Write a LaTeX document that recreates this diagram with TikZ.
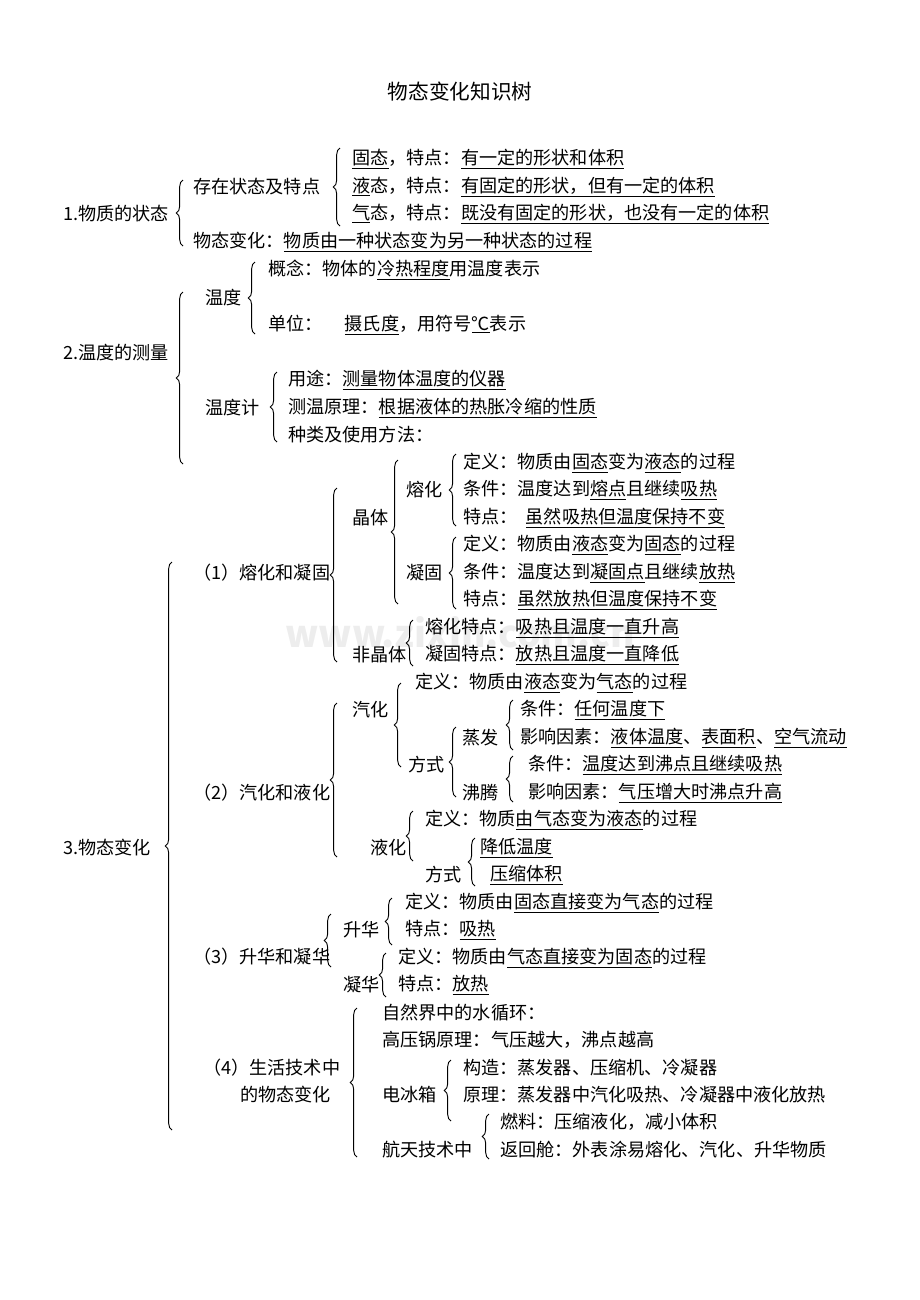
\documentclass[tikz,border=0pt]{standalone}
\usepackage{fontspec}
\setmainfont{Noto Sans CJK SC}
\usetikzlibrary{decorations.pathreplacing}

\begin{document}
\begin{tikzpicture}[x=0.75pt,y=-0.75pt,
  txt/.style={anchor=west,inner sep=0pt,font=\fontsize{13.6}{15}\selectfont},
  brc/.style={decorate,decoration={brace,amplitude=5pt},line width=0.7pt}]

\useasboundingbox (0,0) rectangle (920,1300);
\newcommand{\brc}[3]{\draw[brc] (#1,#3) -- (#1,#2);} % x, top, bottom
\newcommand{\ul}[1]{\underline{#1}}

\node[font=\fontsize{28}{30}\selectfont\bfseries,text=black!7] (mark) at (460,632) {www.zixin.com.cn};
\node[inner sep=0pt,font=\fontsize{15.5}{18}\selectfont] (title) at (460,92) {物态变化知识树};

% 1
\node[txt] (s1) at (63,214) {1.物质的状态};
\brc{183}{180}{246}
\node[txt] (exist) at (193,187) {存在状态及特点};
\brc{340}{148}{226}
\node[txt] (gu) at (352,159) {\ul{固态}，特点：\ul{有一定的形状和体积}};
\node[txt] (ye) at (352,187) {\ul{液}态，特点：\ul{有固定的形状，但有一定的体积}};
\node[txt] (qi) at (352,214) {\ul{气}态，特点：\ul{既没有固定的形状，也没有一定的体积}};
\node[txt] (bh) at (193,242) {物态变化：\ul{物质由一种状态变为另一种状态的过程}};

% 2
\node[txt] (s2) at (63,353) {2.温度的测量};
\brc{183}{292}{464}
\node[txt] (wd) at (205,298) {温度};
\brc{255}{262}{334}
\node[txt] (gn) at (268,270) {概念：物体的\ul{冷热程度}用温度表示};
\node[txt] (dw) at (268,325) {单位：\quad\ \ul{摄氏度}，用符号\ul{℃}表示};
\node[txt] (wdj) at (205,408) {温度计};
\brc{277}{372}{442}
\node[txt] (yt) at (288,380) {用途：\ul{测量物体温度的仪器}};
\node[txt] (yl) at (288,408) {测温原理：\ul{根据液体的热胀冷缩的性质}};
\node[txt] (zl) at (288,435) {种类及使用方法：};

% 3
\node[txt] (s3) at (63,848) {3.物态变化};
\brc{172}{562}{1130}
\node[txt] (rh) at (193,573) {（1）熔化和凝固};
\brc{337}{488}{662}
\node[txt] (jt) at (352,518) {晶体};
\brc{398}{460}{604}
\node[txt] (rh1) at (406,490) {熔化};
\brc{456}{454}{526}
\node[txt] (a1) at (463,463) {定义：物质由\ul{固态}变为\ul{液态}的过程};
\node[txt] (a2) at (463,490) {条件：温度达到\ul{熔点}且继续\ul{吸热}};
\node[txt] (a3) at (463,518) {特点：\ \ \ul{虽然吸热但温度保持不变}};
\node[txt] (ng1) at (406,573) {凝固};
\brc{456}{537}{609}
\node[txt] (b1) at (463,545) {定义：物质由\ul{液态}变为\ul{固态}的过程};
\node[txt] (b2) at (463,573) {条件：温度达到\ul{凝固点}且继续\ul{放热}};
\node[txt] (b3) at (463,600) {特点：\ul{虽然放热但温度保持不变}};
\node[txt] (fjt) at (352,655) {非晶体};
\brc{413}{620}{666}
\node[txt] (c1) at (425,628) {熔化特点：\ul{吸热且温度一直升高}};
\node[txt] (c2) at (425,655) {凝固特点：\ul{放热且温度一直降低}};

\node[txt] (qh) at (193,793) {（2）汽化和液化};
\brc{337}{703}{857}
\node[txt] (qh1) at (352,710) {汽化};
\brc{401}{683}{767}
\node[txt] (d1) at (415,683) {定义：物质由\ul{液态}变为\ul{气态}的过程};
\node[txt] (fs1) at (408,765) {方式};
\brc{456}{727}{797}
\node[txt] (zf) at (462,738) {蒸发};
\brc{513}{700}{750}
\node[txt] (e1) at (520,710) {条件：\ul{任何温度下}};
\node[txt] (e2) at (520,738) {影响因素：\ul{液体温度}、\ul{表面积}、\ul{空气流动}};
\node[txt] (ft) at (462,793) {沸腾};
\brc{513}{756}{802}
\node[txt] (f1) at (528,765) {条件：\ul{温度达到沸点且继续吸热}};
\node[txt] (f2) at (528,793) {影响因素：\ul{气压增大时沸点升高}};
\node[txt] (yh) at (370,848) {液化};
\brc{413}{811}{861}
\node[txt] (g1) at (425,820) {定义：物质\ul{由气态变为液态}的过程};
\node[txt] (fs2) at (425,875) {方式};
\brc{475}{838}{886}
\node[txt] (g2) at (480,848) {\ul{降低温度}};
\node[txt] (g3) at (490,875) {\ul{压缩体积}};

\node[txt] (sh) at (193,957) {（3）升华和凝华};
\brc{331}{914}{967}
\node[txt] (sh1) at (343,930) {升华};
\brc{392}{898}{945}
\node[txt] (h1) at (405,903) {定义：物质由\ul{固态直接变为气态}的过程};
\node[txt] (h2) at (405,930) {特点：\ul{吸热}};
\node[txt] (nh) at (343,985) {凝华};
\brc{386}{953}{997}
\node[txt] (i1) at (398,958) {定义：物质由\ul{气态直接变为固态}的过程};
\node[txt] (i2) at (398,985) {特点：\ul{放热}};

\node[txt] (sj) at (203,1068) {（4）生活技术中};
\node[txt] (sj2) at (240,1095) {的物态变化};
\brc{357}{1008}{1157}
\node[txt] (sx) at (382,1013) {自然界中的水循环：};
\node[txt] (gyg) at (382,1040) {高压锅原理：气压越大，沸点越高};
\node[txt] (bx) at (382,1095) {电冰箱};
\brc{451}{1060}{1121}
\node[txt] (j1) at (463,1068) {构造：蒸发器、压缩机、冷凝器};
\node[txt] (j2) at (463,1095) {原理：蒸发器中汽化吸热、冷凝器中液化放热};
\node[txt] (ht) at (382,1150) {航天技术中};
\brc{489}{1114}{1159}
\node[txt] (k1) at (500,1122) {燃料：压缩液化，减小体积};
\node[txt] (k2) at (500,1150) {返回舱：外表涂易熔化、汽化、升华物质};

\end{tikzpicture}
\end{document}
